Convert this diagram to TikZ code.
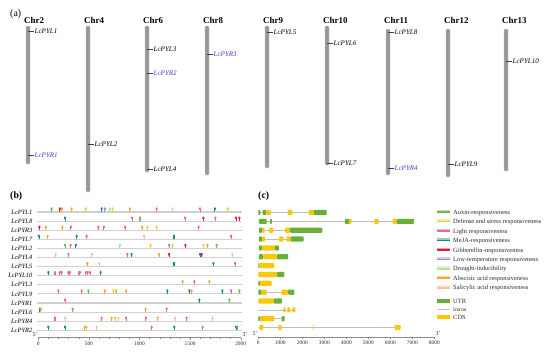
\documentclass[tikz,border=0pt]{standalone}
\usepackage{fontspec}
\setmainfont{Liberation Serif}
\usepackage{xcolor}
\definecolor{chrgray}{RGB}{152,152,152}
\definecolor{pyrblue}{RGB}{72,60,200}
\definecolor{aux}{RGB}{110,185,80}
\definecolor{def}{RGB}{240,205,50}
\definecolor{lig}{RGB}{235,105,145}
\definecolor{mej}{RGB}{20,140,130}
\definecolor{gib}{RGB}{215,30,70}
\definecolor{low}{RGB}{150,145,190}
\definecolor{dro}{RGB}{185,225,150}
\definecolor{aba}{RGB}{245,165,60}
\definecolor{sal}{RGB}{245,195,160}
\definecolor{utr}{RGB}{104,176,58}
\definecolor{cds}{RGB}{250,200,10}
\definecolor{intr}{RGB}{190,190,190}
\definecolor{txt}{RGB}{45,45,45}
\usepackage{tikz}
\usetikzlibrary{positioning}
\tikzset{
  panel/.style={font=\fontsize{8.4}{9}\selectfont\bfseries, anchor=base west, inner sep=0pt},
  chrlab/.style={font=\fontsize{7.6}{8}\selectfont\bfseries, anchor=base west, inner sep=0pt},
  chrbar/.style={fill=chrgray, draw=chrgray!55, line width=0.3pt, rounded corners=1pt},
  genelab/.style={font=\fontsize{6}{7}\selectfont\itshape, anchor=west, inner sep=0.4pt},
  genetick/.style={draw=black!75, line width=0.3pt},
  rowlab/.style={font=\fontsize{5.5}{6}\selectfont\itshape, anchor=east, inner sep=0pt},
  rowline/.style={draw=black!18, line width=1pt},
  pin/.style={rounded corners=0.6pt},
  intron/.style={draw=intr, line width=0.5pt},
  segu/.style={fill=utr, rounded corners=0.7pt},
  segc/.style={fill=cds, rounded corners=0.7pt},
  axisline/.style={draw=black!45, line width=0.3pt},
  axnum/.style={font=\fontsize{4.6}{5}\selectfont, text=txt, inner sep=0pt},
  endlab/.style={font=\fontsize{5}{5}\selectfont, text=txt, inner sep=0pt},
  leglab/.style={font=\fontsize{5.5}{6}\selectfont, text=txt, anchor=west, inner sep=0pt},
}

\begin{document}
\begin{tikzpicture}[x=0.03cm, y=-0.03cm]
\useasboundingbox[fill=white] (0,0) rectangle (550,353);

% (a) chromosome map
\node[panel, font=\fontsize{8.4}{9}\selectfont] (pa) at (10,16) {(a)};
\foreach \c/\x/\t/\b in {2/28/26/164, 4/88/26/192, 6/147/26/172, 8/207/26/175,
    9/267/26/168, 10/327/26/165, 11/388/29/175, 12/448/29/177, 13/506/29/171}{
  \node[chrlab] (chr\c) at (\x-4,23) {Chr\c};
  \draw[chrbar] (\x-2,\t) rectangle (\x+2,\b);
}
\foreach \g/\x/\y/\col in {LcPYL1/28/31/black, LcPYR1/28/155/pyrblue, LcPYL2/88/144/black,
    LcPYL3/147/49/black, LcPYR2/147/73/pyrblue, LcPYL4/147/169/black, LcPYR3/207/54/pyrblue,
    LcPYL5/267/32/black, LcPYL6/327/43/black, LcPYL7/327/163/black, LcPYL8/388/32/black,
    LcPYR4/388/168/pyrblue, LcPYL9/448/164/black, LcPYL10/506/61/black}{
  \coordinate (at\g) at (\x,\y);
  \node[genelab, text=\col] (loc\g) at (\x+6,\y) {\g};
  \draw[genetick] (at\g) -- (loc\g.west);
}

% (b) cis-acting elements in promoters
\node[panel] (pb) at (10,198) {(b)};
\foreach \r/\g/\sites in {
  0/LcPYL1/{132/aux,214/gib,234/aba,330/aba,471/def,626/mej,659/low,708/dro,735/def,906/aba,1170/lig,1328/sal,1598/lig,1746/mej,1872/def},
  1/LcPYL8/{264/mej,926/lig,1005/aux,1450/lig,1631/gib,1750/lig,1954/gib,1987/gib},
  2/LcPYR3/{10/gib,76/aba,237/aba,323/lig,593/lig,649/lig,857/lig,1025/aba,1077/def,1170/def,1585/lig},
  3/LcPYL7/{7/mej,92/aba,379/mej,478/lig,1045/sal,1341/mej,1905/lig},
  4/LcPYL2/{264/aux,320/lig,372/mej,807/dro,1110/def,1292/low,1328/def,1453/gib,1631/sal,1671/aba,1763/aux},
  5/LcPYL4/{171/dro,297/low,530/dro,880/lig,923/mej,1193/aba,1292/gib,1598/mej,1615/gib,1918/dro},
  6/LcPYL5/{484/aba,603/sal,1341/mej,1730/mej,1944/lig},
  7/LcPYL10/{99/mej,165/lig,214/lig,231/lig,297/lig,313/lig,402/lig,412/lig,471/lig,488/lig,511/lig,616/mej},
  8/LcPYL3/{1427/aba,1542/lig,1690/aba},
  9/LcPYL9/{198/lig,428/lig,494/aux,659/aba,741/def,768/aba,867/aba,1275/mej,1493/mej,1516/aba,1819/mej,1905/lig,1987/aux},
  10/LcPYR1/{264/lig,1592/mej,1888/aux},
  11/LcPYL6/{16/mej,26/aba,339/aux,1061/aba,1269/lig},
  12/LcPYR4/{165/lig,264/sal,626/lig,725/aba,758/def,791/sal,867/lig,1064/lig,1180/aba,1351/sal,1466/lig,1723/dro},
  13/LcPYR2/{99/mej,264/mej,461/aba,478/def,577/dro,1120/lig,1344/mej,1624/aux,1954/mej,1967/low}}{
  \pgfmathsetmacro\ry{212+9.1*\r}
  \node[rowlab] (b\r) at (32.5,\ry) {\g};
  \begin{scope}[shift={(38.3,0)}, xscale=0.1012]
    \draw[rowline] (-10,\ry) -- (2010,\ry);
    \foreach \p/\c in \sites {
      \fill[fill=\c] (\p-5,\ry-0.4) rectangle (\p+5,\ry-2.5);
      \fill[pin, fill=\c] (\p-10,\ry-2) rectangle (\p+10,\ry-4.6);
    }
  \end{scope}
}
\begin{scope}[shift={(38.3,0)}, xscale=0.1012]
  \draw[axisline] (0,337.5) -- (2000,337.5);
  \foreach \t in {0,100,...,2000} \draw[axisline] (\t,337.5) -- (\t,338.5);
  \foreach \t in {0,500,...,2000}{
    \draw[axisline] (\t,337.5) -- (\t,339.5);
    \node[axnum] (bx\t) at (\t,343.5) {\t};
  }
\end{scope}
\node[endlab] (b5) at (35,335) {5'};
\node[endlab] (b3) at (245,335) {3'};

% (c) gene structure
\node[panel] (pc) at (258,198) {(c)};
\foreach \r/\s/\e/\segs in {
  0/0/3109/{u/0/90,u/200/364,c/364/564,c/1336/1545,c/2290/2532,u/2532/3109},
  1/30/7080/{u/30/380,u/530/620,u/3940/4120,c/4120/4240,c/5270/5470,c/6110/6290,u/6290/7080},
  2/30/2910/{u/30/170,c/170/290,c/490/680,c/1210/1440,u/1440/2910},
  3/30/2060/{u/30/170,c/170/300,c/950/1140,c/1290/1470,u/1470/2060},
  4/30/930/{u/30/170,c/170/760,u/760/930},
  5/30/1350/{u/30/230,c/230/860,u/860/1350},
  6/0/730/{u/0/45,c/45/730},
  7/0/1180/{c/0/860,u/860/1180},
  8/0/600/{u/0/75,c/75/600},
  9/0/1640/{u/0/150,c/150/380,c/1060/1360,u/1360/1640},
  10/0/1075/{c/0/710,u/710/1075},
  11/0/1680/{c/1140/1240,c/1320/1450,c/1550/1680},
  12/0/1200/{u/0/75,c/75/730,u/1060/1200},
  13/45/6470/{c/45/230,c/910/1060,c/2500/2530,c/6210/6470}}{
  \pgfmathsetmacro\ry{212.5+8.85*\r}
  \begin{scope}[shift={(258.3,0)}, xscale=0.022]
    \draw[intron] (\s,\ry) -- (\e,\ry);
    \foreach \t/\a/\b in \segs {\fill[seg\t] (\a,\ry-2.6) rectangle (\b,\ry+2.6);}
  \end{scope}
}
\begin{scope}[shift={(258.3,0)}, xscale=0.022]
  \draw[axisline] (0,337) -- (8000,337);
  \foreach \t in {0,500,...,8000} \draw[axisline] (\t,337) -- (\t,338);
  \foreach \t in {0,1000,...,8000}{
    \draw[axisline] (\t,337) -- (\t,339);
    \node[axnum] (cx\t) at (\t,343) {\t};
  }
\end{scope}
\node[endlab] (c5) at (255,334) {5'};
\node[endlab] (c3) at (438,334) {3'};

% legend
\foreach \k/\c/\l in {0/aux/Auxin-responsiveness, 1/def/Defense and stress responsiveness,
    2/lig/Light responsiveness, 3/mej/MeJA-responsiveness, 4/gib/Gibberellin-responsiveness,
    5/low/Low-temperature responsiveness, 6/dro/Drought-inducibility,
    7/aba/Abscisic acid responsiveness, 8/sal/Salicylic acid responsiveness}{
  \pgfmathsetmacro\ly{212.7+9.45*\k}
  \fill[\c!45] (437,\ly-3) rectangle (450,\ly-1.4);
  \fill[\c] (437,\ly-1.4) rectangle (450,\ly+0.2);
  \node[leglab] (leg\k) at (453,\ly) {\l};
}
\fill[utr] (437,299) rectangle (450,303);
\node[leglab] (legu) at (453,301) {UTR};
\draw[intron] (437,309.3) -- (450,309.3);
\node[leglab, font=\fontsize{4.6}{5}\selectfont] (legi) at (453,309.3) {Intron};
\fill[cds] (437,315.3) rectangle (450,319.3);
\node[leglab] (legc) at (453,317.3) {CDS};
\end{tikzpicture}
\end{document}
